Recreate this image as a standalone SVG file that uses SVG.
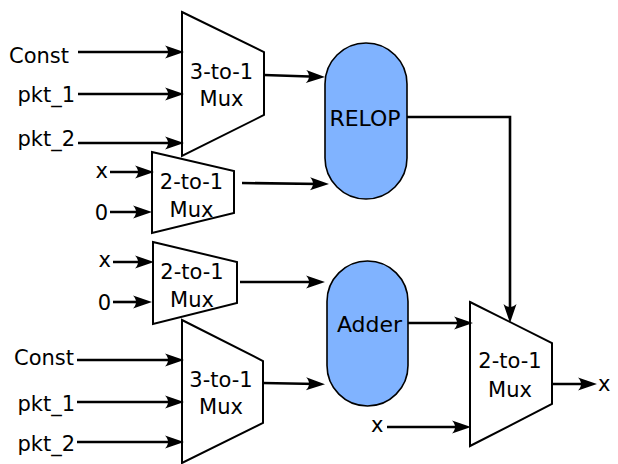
<svg xmlns="http://www.w3.org/2000/svg" width="618" height="464" viewBox="0 0 618 464">
  <defs>
    <marker id="arrow" markerUnits="userSpaceOnUse" orient="auto" refX="0" refY="0" markerWidth="30" markerHeight="30" overflow="visible">
      <path d="M8,0 L-11,-6.5 C-7,-2.5 -7,2.5 -11,6.5 Z" fill="#000"/>
    </marker>
    <style>
      text { font-family: "DejaVu Sans", "Liberation Sans", sans-serif; fill: #000; }
      .lbl { font-size: 21px; }
      .in { font-size: 21px; text-anchor: end; }
      .mux-t { font-size: 21px; text-anchor: middle; }
      .op-t { font-size: 22px; text-anchor: middle; }
      .mux { fill: #fff; stroke: #000; stroke-width: 2; stroke-linejoin: miter; }
      .op { fill: #80b3ff; stroke: #000; stroke-width: 1.6; }
      .wire { fill: none; stroke: #000; stroke-width: 2.6; marker-end: url(#arrow); }
      .wire-plain { fill: none; stroke: #000; stroke-width: 2.6; }
    </style>
  </defs>

  <!-- upper 3-to-1 multiplexer -->
  <g id="mux3_top">
    <polygon class="mux" points="182,12 264,52 264,115 182,156"/>
    <text class="mux-t" x="221.5" y="79">3-to-1</text>
    <text class="mux-t" x="221.5" y="106">Mux</text>
  </g>

  <!-- upper 2-to-1 multiplexer -->
  <g id="mux2_top">
    <polygon class="mux" points="152,152 234,171 234,213 152,233"/>
    <text class="mux-t" x="191.5" y="189">2-to-1</text>
    <text class="mux-t" x="191.5" y="217">Mux</text>
  </g>

  <!-- relational operator -->
  <g id="relop">
    <rect class="op" x="325" y="43" width="82" height="156" rx="41" ry="41"/>
    <text class="op-t" x="365" y="126">RELOP</text>
  </g>

  <!-- lower 2-to-1 multiplexer -->
  <g id="mux2_mid">
    <polygon class="mux" points="153,242 237,262 237,303 153,324"/>
    <text class="mux-t" x="192" y="279">2-to-1</text>
    <text class="mux-t" x="192" y="307">Mux</text>
  </g>

  <!-- lower 3-to-1 multiplexer -->
  <g id="mux3_bottom">
    <polygon class="mux" points="182,320 263,361 263,423 182,463"/>
    <text class="mux-t" x="221" y="387">3-to-1</text>
    <text class="mux-t" x="221" y="414">Mux</text>
  </g>

  <!-- adder -->
  <g id="adder">
    <rect class="op" x="327" y="261" width="81" height="145" rx="40.5" ry="40.5"/>
    <text class="op-t" x="369.5" y="332">Adder</text>
  </g>

  <!-- output 2-to-1 multiplexer -->
  <g id="mux2_out">
    <polygon class="mux" points="470,302 552,343 552,404 470,446"/>
    <text class="mux-t" x="510" y="368">2-to-1</text>
    <text class="mux-t" x="510" y="397">Mux</text>
  </g>

  <!-- input and output labels -->
  <g id="labels">
    <text class="in" x="69" y="63">Const</text>
    <text class="in" x="75" y="102">pkt_1</text>
    <text class="in" x="75" y="146">pkt_2</text>
    <text class="in" x="108" y="178">x</text>
    <text class="in" x="108" y="220">0</text>
    <text class="in" x="111" y="267">x</text>
    <text class="in" x="111" y="310">0</text>
    <text class="in" x="74" y="365">Const</text>
    <text class="in" x="75" y="411">pkt_1</text>
    <text class="in" x="75" y="451">pkt_2</text>
    <text class="lbl" x="371" y="432">x</text>
    <text class="lbl" x="598" y="391">x</text>
  </g>

  <!-- connectors -->
  <g id="connectors">
    <path class="wire" d="M78,52 H176"/>
    <path class="wire" d="M78,94 H176"/>
    <path class="wire" d="M78,143 H176"/>
    <path class="wire" d="M110,172 H146"/>
    <path class="wire" d="M110,212 H144"/>
    <path class="wire" d="M264,75 L317,76.8"/>
    <path class="wire" d="M242,183 L321,184"/>
    <path class="wire" d="M407,117 H510 V315"/>
    <path class="wire" d="M113,262 H146"/>
    <path class="wire" d="M113,302 H144"/>
    <path class="wire" d="M240,282 H317"/>
    <path class="wire" d="M263,383 L317,384"/>
    <path class="wire" d="M408,323 H465"/>
    <path class="wire" d="M387,427 H463"/>
    <path class="wire" d="M552,384 H589"/>
    <path class="wire" d="M77,360 H176"/>
    <path class="wire" d="M77,402 H176"/>
    <path class="wire" d="M77,442 H176"/>
  </g>
</svg>
